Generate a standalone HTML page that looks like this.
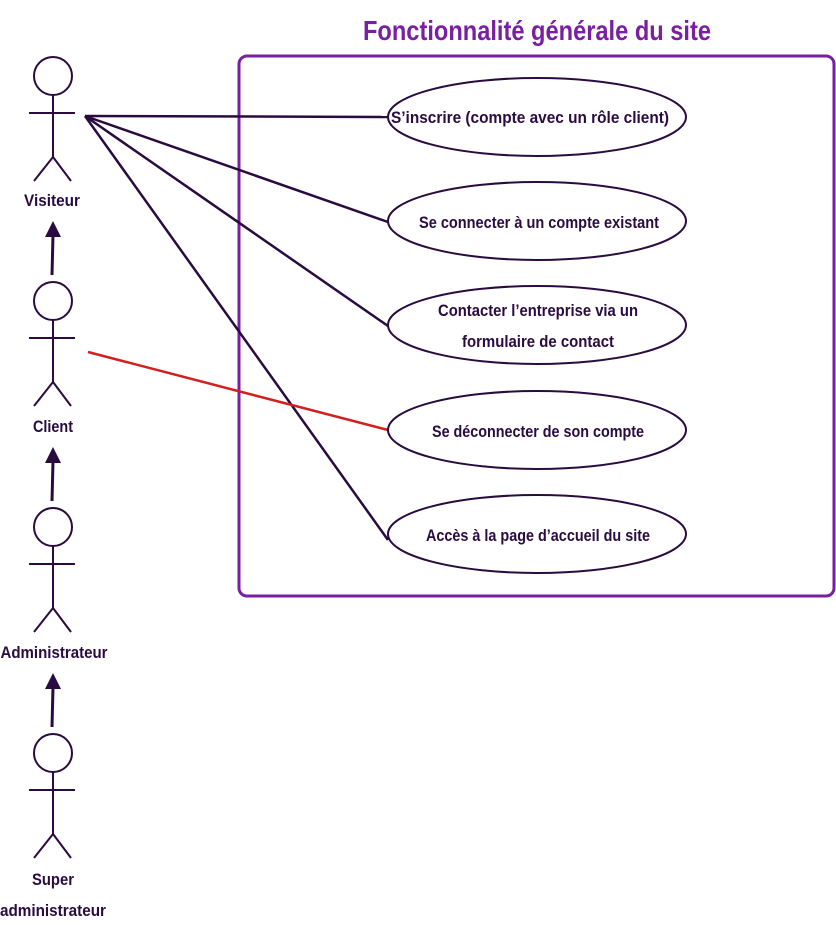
<!DOCTYPE html>
<html><head><style>body{margin:0;background:#fff}svg{display:block}</style></head>
<body>
<svg width="836" height="925" viewBox="0 0 836 925" xmlns="http://www.w3.org/2000/svg" font-family="'Liberation Sans Narrow','Liberation Sans',sans-serif" font-weight="bold">
<defs><marker id="ah" markerWidth="8" markerHeight="8" refX="4" refY="7" orient="auto-start-reverse" markerUnits="userSpaceOnUse"><path d="M0,0 L0,0" /></marker></defs>
<text x="537" y="40" text-anchor="middle" font-size="28" fill="#7a1fa2" textLength="348" lengthAdjust="spacingAndGlyphs">Fonctionnalité générale du site</text>
<rect x="239" y="56" width="595" height="540" rx="8" fill="none" stroke="#7a1fa2" stroke-width="3"/>
<g stroke="#2a0b40" stroke-width="2.5" fill="none">
<line x1="85" y1="116" x2="388" y2="117"/>
<line x1="85" y1="116" x2="388" y2="222"/>
<line x1="85" y1="116" x2="388" y2="326"/>
<line x1="85" y1="116" x2="388" y2="540"/>
</g>
<line x1="88" y1="352" x2="388" y2="430" stroke="#d02020" stroke-width="2.5"/>
<g stroke="#2a0b40" stroke-width="2" fill="#fff">
<ellipse cx="537" cy="117" rx="149" ry="39"/>
<ellipse cx="537" cy="221" rx="149" ry="39"/>
<ellipse cx="537" cy="325" rx="149" ry="39"/>
<ellipse cx="537" cy="430" rx="149" ry="39"/>
<ellipse cx="537" cy="534" rx="149" ry="39"/>
</g>
<g font-size="17" fill="#2a0b40" text-anchor="middle">
<text x="530" y="123" textLength="278" lengthAdjust="spacingAndGlyphs">S’inscrire (compte avec un rôle client)</text>
<text x="539" y="228" textLength="240" lengthAdjust="spacingAndGlyphs">Se connecter à un compte existant</text>
<text x="538" y="316" textLength="200" lengthAdjust="spacingAndGlyphs">Contacter l’entreprise via un</text>
<text x="538" y="347" textLength="152" lengthAdjust="spacingAndGlyphs">formulaire de contact</text>
<text x="538" y="437" textLength="212" lengthAdjust="spacingAndGlyphs">Se déconnecter de son compte</text>
<text x="538" y="541" textLength="224" lengthAdjust="spacingAndGlyphs">Accès à la page d’accueil du site</text>
</g>
<g id="a" stroke="#2a0b40" stroke-width="2" fill="none">
<circle cx="53" cy="76" r="19"/>
<line x1="53" y1="95" x2="53" y2="157"/>
<line x1="29" y1="113" x2="75" y2="113"/>
<line x1="53" y1="157" x2="34" y2="181"/>
<line x1="53" y1="157" x2="71" y2="181"/>
</g>
<use href="#a" y="225"/>
<use href="#a" y="451"/>
<use href="#a" y="677"/>
<g stroke="#2a0b40" stroke-width="3">
<line x1="52" y1="275" x2="53" y2="235"/>
<line x1="52" y1="501" x2="53" y2="461"/>
<line x1="52" y1="727" x2="53" y2="687"/>
</g>
<g fill="#2a0b40">
<path d="M45,237 L53,221 L61,237 Z"/>
<path d="M45,463 L53,447 L61,463 Z"/>
<path d="M45,689 L53,673 L61,689 Z"/>
</g>
<g font-size="17" fill="#2a0b40" text-anchor="middle">
<text x="52" y="206" textLength="56" lengthAdjust="spacingAndGlyphs">Visiteur</text>
<text x="53" y="432" textLength="40" lengthAdjust="spacingAndGlyphs">Client</text>
<text x="54" y="658" textLength="107" lengthAdjust="spacingAndGlyphs">Administrateur</text>
<text x="53" y="885" textLength="42" lengthAdjust="spacingAndGlyphs">Super</text>
<text x="53" y="916" textLength="106" lengthAdjust="spacingAndGlyphs">administrateur</text>
</g>
</svg>
</body></html>
